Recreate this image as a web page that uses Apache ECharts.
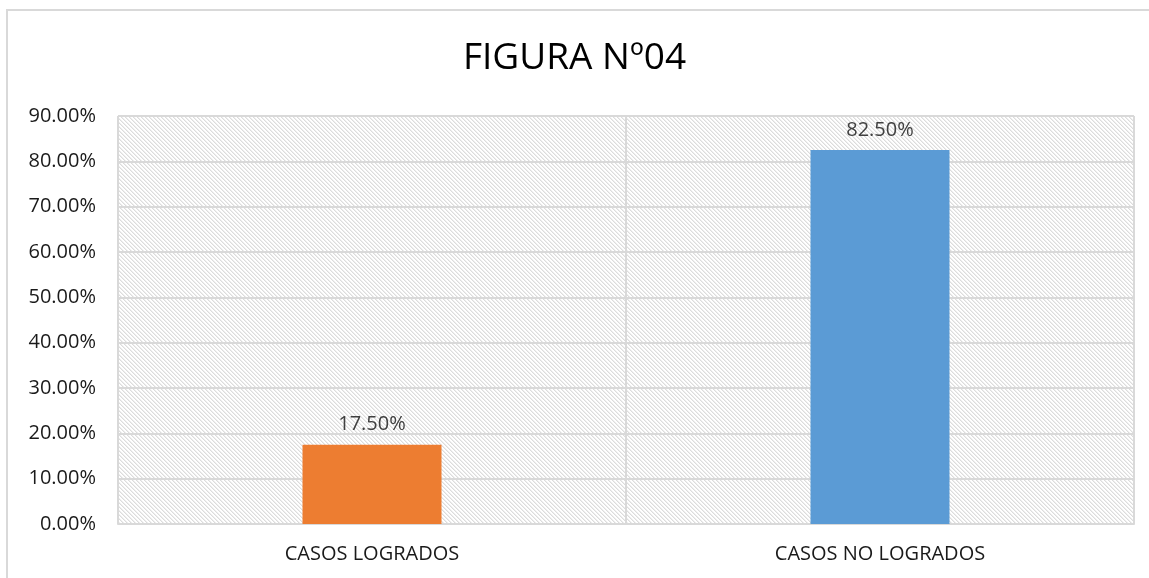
<!DOCTYPE html>
<html>
<head>
<meta charset="utf-8">
<script src="https://cdn.jsdelivr.net/npm/echarts@6/dist/echarts.min.js"></script>
<style>
  html, body { margin: 0; padding: 0; background: #fff; }
  #chart { width: 1149px; height: 578px; }
</style>
</head>
<body>
<div id="chart"></div>
<script>
var categories = ['CASOS LOGRADOS', 'CASOS NO LOGRADOS'];
var values = [17.5, 82.5];
var barColors = ['#ED7D31', '#5B9BD5'];
var titleText = 'FIGURA Nº04';

// hatch pattern for the plot area
var makeHatch = function () {
    var c = document.createElement('canvas');
    c.width = 4;
    c.height = 4;
    var ctx = c.getContext('2d');
    ctx.fillStyle = '#ffffff';
    ctx.fillRect(0, 0, 4, 4);
    for (var i = 0; i < 4; i++) {
        ctx.fillStyle = '#dcdcdc';
        ctx.fillRect(i, i, 1, 1);
        ctx.fillStyle = '#eeeeee';
        ctx.fillRect((i + 1) % 4, i, 1, 1);
    }
    return c;
};

var font = '"Open Sans", "Noto Sans", sans-serif';
var chart = echarts.init(document.getElementById('chart'));

var seriesData = values.map(function (v, i) {
    return { value: v, itemStyle: { color: barColors[i] } };
});

chart.setOption({
    animation: false,
    title: {
        text: titleText,
        left: 'center',
        top: 35,
        textStyle: { fontFamily: font, fontSize: 37, fontWeight: 'normal', color: '#000' }
    },
    graphic: [{
        type: 'rect',
        shape: { x: 7, y: 10, width: 1160, height: 620 },
        style: { fill: 'none', stroke: '#d9d9d9', lineWidth: 2 },
        silent: true
    }],
    grid: {
        left: 118, right: 15, top: 116, bottom: 54,
        show: true,
        backgroundColor: { image: makeHatch(), repeat: 'repeat' },
        borderColor: '#d9d9d9',
        borderWidth: 1
    },
    xAxis: {
        type: 'category',
        data: categories,
        axisLine: { lineStyle: { color: '#d9d9d9', width: 2 } },
        axisTick: { show: false },
        splitLine: { show: true, lineStyle: { color: '#d9d9d9', width: 2 } },
        axisLabel: { margin: 20, fontFamily: font, fontSize: 20, color: '#1a1a1a' }
    },
    yAxis: {
        type: 'value',
        min: 0,
        max: 90,
        interval: 10,
        axisLine: { show: false },
        axisTick: { show: false },
        splitLine: { lineStyle: { color: '#d9d9d9', width: 2 } },
        axisLabel: {
            margin: 22,
            fontFamily: font,
            fontSize: 20,
            color: '#1a1a1a',
            formatter: function (v) { return v.toFixed(2) + '%'; }
        }
    },
    series: [{
        type: 'bar',
        data: seriesData,
        barWidth: 139,
        label: {
            show: true,
            position: 'top',
            distance: 10,
            fontFamily: font,
            fontSize: 20,
            color: '#404040',
            formatter: function (p) { return p.value.toFixed(2) + '%'; }
        }
    }]
});
</script>
</body>
</html>
